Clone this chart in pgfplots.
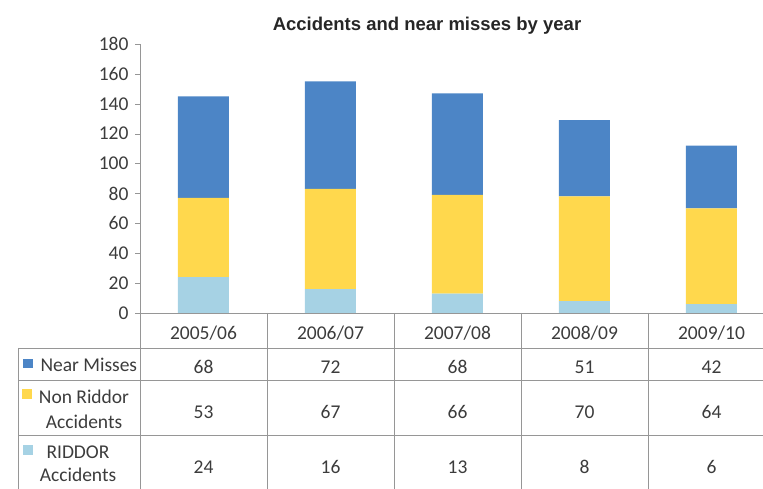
\documentclass[border=0pt]{standalone}
\usepackage{pgfplots}
\pgfplotsset{compat=1.18}
\usepackage{fontspec}
\setmainfont{Carlito}
\newfontfamily\titlefont{Liberation Sans}
\definecolor{nearblue}{RGB}{76,133,198}
\definecolor{nonyellow}{RGB}{255,216,77}
\definecolor{riddorblue}{RGB}{166,210,228}
\definecolor{linegray}{RGB}{150,150,150}
\definecolor{txt}{RGB}{60,60,60}

\begin{document}
\begin{tikzpicture}[x=1pt,y=1pt]
\path[use as bounding box] (0,0) rectangle (763,489);
\begin{axis}[
  at={(140pt,176pt)}, anchor=south west,
  scale only axis, width=623pt, height=269pt,
  ybar stacked, bar width=51pt,
  xmin=-0.5, xmax=4.406, ymin=0, ymax=180,
  axis x line=none, axis y line=left,
  axis line style={draw=linegray,-},
  ytick={0,20,...,180},
  tick align=outside, major tick length=5pt,
  tick style={draw=linegray},
  yticklabel style={font=\fontsize{19.5}{19.5}\selectfont, text=txt, xshift=-3pt,
    /pgf/number format/assume math mode=true},
  clip=false,
]
\addplot[fill=riddorblue,draw=none] coordinates {(0,24) (1,16) (2,13) (3,8) (4,6)};
\addplot[fill=nonyellow,draw=none] coordinates {(0,53) (1,67) (2,66) (3,70) (4,64)};
\addplot[fill=nearblue,draw=none] coordinates {(0,68) (1,72) (2,68) (3,51) (4,42)};
\end{axis}
% title
\node[font=\titlefont\bfseries\fontsize{18.5}{18.5}\selectfont, text=black!85] at (427,463) {Accidents and near misses by year};
% data table grid
\draw[linegray] (140,176) -- (763,176);
\draw[linegray] (18,141) -- (763,141);
\draw[linegray] (18,109) -- (763,109);
\draw[linegray] (18,54) -- (763,54);
\draw[linegray] (18,141) -- (18,0);
\foreach \xx in {140,267,394,521,648} \draw[linegray] (\xx,176) -- (\xx,0);
% table text
\begin{scope}[every node/.style={font=\fontsize{19.5}{19.5}\selectfont, text=txt}]
\foreach \lab [count=\i from 0] in {2005/06,2006/07,2007/08,2008/09,2009/10}
  \node at (203.5+127*\i,156) {\lab};
\foreach \v [count=\i from 0] in {68,72,68,51,42}
  \node at (203.5+127*\i,122) {\v};
\foreach \v [count=\i from 0] in {53,67,66,70,64}
  \node at (203.5+127*\i,77) {\v};
\foreach \v [count=\i from 0] in {24,16,13,8,6}
  \node at (203.5+127*\i,22) {\v};
\fill[nearblue] (23,121) rectangle (33,130);
\node[anchor=west] at (37,124) {Near Misses};
\fill[nonyellow] (22,90) rectangle (32,100);
\node at (84,92) {Non Riddor};
\node at (84,67) {Accidents};
\fill[riddorblue] (23,34) rectangle (33,44);
\node at (78,37) {RIDDOR};
\node at (78,14) {Accidents};
\end{scope}
\end{tikzpicture}
\end{document}
